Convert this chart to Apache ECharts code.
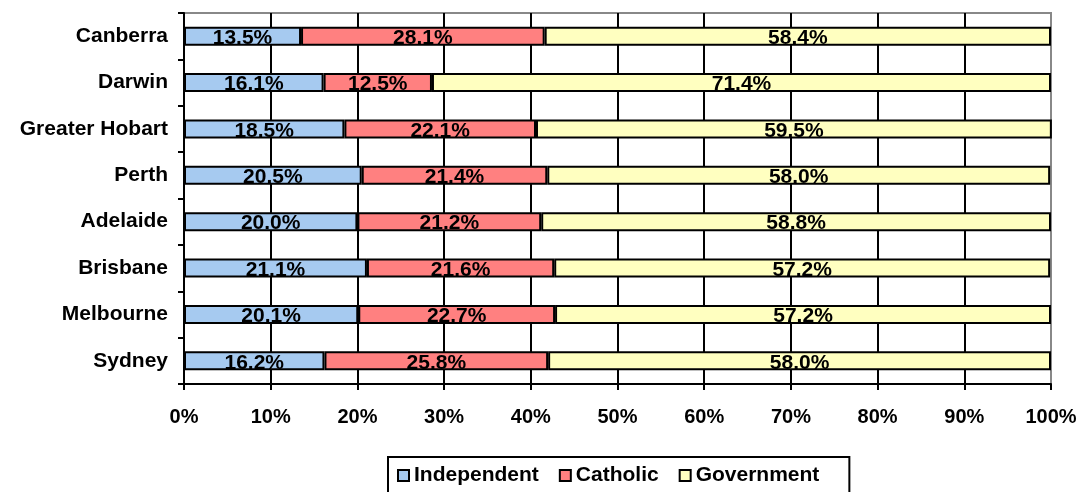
<!DOCTYPE html>
<html>
<head>
<meta charset="utf-8">
<script src="https://cdn.jsdelivr.net/npm/echarts@6/dist/echarts.min.js"></script>
<style>
  html, body { margin: 0; padding: 0; background: #fff; }
  #chart { width: 1086px; height: 492px; }
</style>
</head>
<body>
<div id="chart"></div>
<script>
// cities, top to bottom
var cities = ["Canberra", "Darwin", "Greater Hobart", "Perth", "Adelaide", "Brisbane", "Melbourne", "Sydney"];
var independent = [13.5, 16.1, 18.5, 20.5, 20.0, 21.1, 20.1, 16.2];
var catholic = [28.1, 12.5, 22.1, 21.4, 21.2, 21.6, 22.7, 25.8];
var government = [58.4, 71.4, 59.5, 58.0, 58.8, 57.2, 57.2, 58.0];

var font = "Liberation Sans, Arial, sans-serif";

function barSeries(name, data, color) {
  return {
    name: name,
    type: "bar",
    stack: "share",
    data: data,
    barWidth: 19,
    itemStyle: { color: color, borderColor: "#000", borderWidth: 2 },
    label: {
      show: true,
      position: "inside",
      offset: [0, 2],
      color: "#000",
      fontFamily: font,
      fontWeight: "bold",
      fontSize: 21,
      formatter: function (p) { return p.value.toFixed(1) + "%"; }
    }
  };
}

var chart = echarts.init(document.getElementById("chart"));
chart.setOption({
  animation: false,
  grid: {
    left: 184, right: 35, top: 13, bottom: 108,
    show: true, borderColor: "#888", borderWidth: 2
  },
  legend: {
    top: 457,
    left: 388,
    icon: "rect",
    itemWidth: 11,
    itemHeight: 11,
    itemGap: 20,
    borderColor: "#000",
    borderWidth: 2,
    padding: [8, 30, 14, 9],
    itemStyle: { borderColor: "#000", borderWidth: 2 },
    textStyle: { fontFamily: font, fontWeight: "bold", fontSize: 21, color: "#000" },
    data: ["Independent", "Catholic", "Government"]
  },
  xAxis: {
    type: "value",
    min: 0,
    max: 100,
    interval: 10,
    axisLine: { show: true, lineStyle: { color: "#000", width: 2 } },
    axisTick: { show: true, length: 6, lineStyle: { color: "#000", width: 2 } },
    splitLine: { show: true, showMaxLine: false, lineStyle: { color: "#000", width: 2 } },
    axisLabel: {
      formatter: "{value}%",
      margin: 23,
      color: "#000",
      fontFamily: font,
      fontWeight: "bold",
      fontSize: 20
    }
  },
  yAxis: {
    type: "category",
    inverse: true,
    data: cities,
    axisLine: { show: true, lineStyle: { color: "#000", width: 2 } },
    axisTick: { show: true, length: 6, lineStyle: { color: "#000", width: 2 } },
    splitLine: { show: false },
    axisLabel: {
      margin: 16,
      color: "#000",
      fontFamily: font,
      fontWeight: "bold",
      fontSize: 21
    }
  },
  series: [
    barSeries("Independent", independent, "#a6caf0"),
    barSeries("Catholic", catholic, "#ff8080"),
    barSeries("Government", government, "#ffffc0")
  ]
});
</script>
</body>
</html>
